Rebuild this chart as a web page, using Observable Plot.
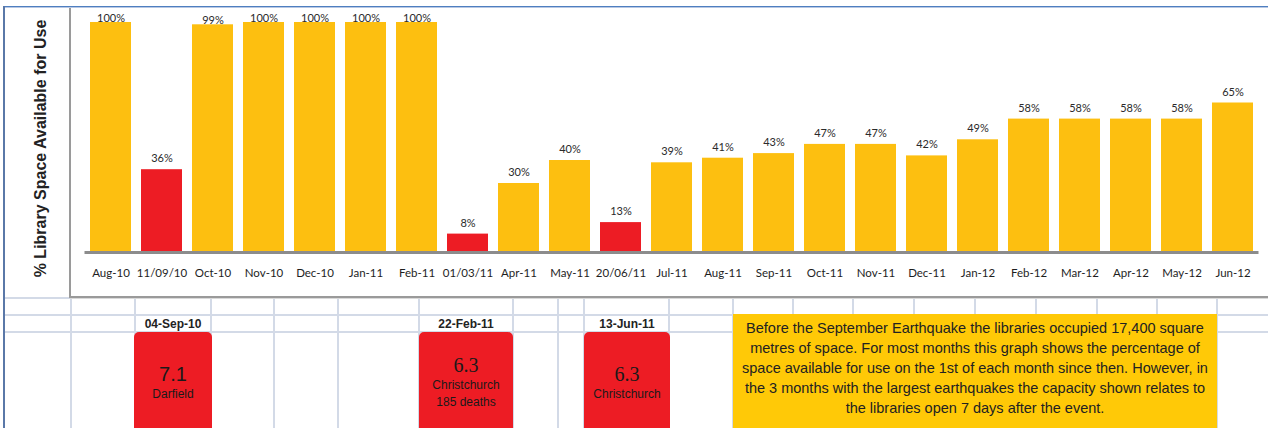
<!DOCTYPE html>
<html><head><meta charset="utf-8">
<script src="https://cdn.jsdelivr.net/npm/d3@7"></script>
<script src="https://cdn.jsdelivr.net/npm/@observablehq/plot@0.6"></script>
<style>
body{margin:0;background:#fff;}
#wrap{position:relative;width:1268px;height:428px;overflow:hidden;background:#fff;font-family:"Liberation Sans",Arial,sans-serif;}
#chart{position:absolute;left:0;top:0;}
.ln{position:absolute;}
.grid{position:absolute;background:#d3dae7;}
.qbox{position:absolute;top:332px;height:100px;background:#ED1C24;border-radius:5px 5px 0 0;display:flex;flex-direction:column;align-items:center;justify-content:center;color:#1a1a1a;text-align:center;}
.qdate{position:absolute;top:315px;height:17px;line-height:18px;text-align:center;font-weight:bold;font-size:12px;color:#222;}
.mag{font-size:20px;line-height:24px;}
.place{font-size:12px;line-height:17px;}
#note{position:absolute;left:733px;top:314px;width:484px;height:120px;background:#FFC907;color:#222;font-size:14.5px;line-height:20px;text-align:center;padding-top:4px;box-sizing:border-box;white-space:nowrap;}
</style></head><body><div id="wrap"><div id="chart"></div></div>
<script>
// ---- data ----
const months = ["Aug-10","11/09/10","Oct-10","Nov-10","Dec-10","Jan-11","Feb-11","01/03/11","Apr-11","May-11","20/06/11","Jul-11","Aug-11","Sep-11","Oct-11","Nov-11","Dec-11","Jan-12","Feb-12","Mar-12","Apr-12","May-12","Jun-12"];
const values = [100,36,99,100,100,100,100,8,30,40,13,39,41,43,47,47,42,49,58,58,58,58,65];
const eventMonths = ["11/09/10","01/03/11","20/06/11"];
const yTitle = "% Library Space Available for Use";
const quakeDates = ["04-Sep-10","22-Feb-11","13-Jun-11"];
const quakeMagnitudes = ["7.1","6.3","6.3"];
const quakePlaces = ["Darfield","Christchurch","Christchurch"];
const quakeDeaths = ["","185 deaths",""];
const noteLines = [
  "Before the September Earthquake the libraries occupied 17,400 square",
  "metres of space. For most months this graph shows the percentage of",
  "space available for use on the 1st of each month since then.  However, in",
  "the 3 months with the largest earthquakes the capacity shown relates to",
  "the libraries open 7 days after the event."
];

// ---- layout (spreadsheet decoration) ----
const quakeBoxLayout = [{left:134,width:78,serif:false},{left:419,width:94,serif:true},{left:584,width:86,serif:true}];
const gridCols = [71,135,211,274,338,419,513,558,584,669,733,793,853,914,975,1036,1097,1157,1217];

const data = months.map((m,i)=>({month:m, value:values[i], event:eventMonths.includes(m)}));
const ORANGE = "#FDBF10", RED = "#ED1C24";

const plot = Plot.plot({
  width:1268, height:300,
  marginLeft:84.5, marginRight:9.5, marginTop:22, marginBottom:48,
  x:{domain:months, paddingInner:0.2, paddingOuter:0.1, axis:null},
  y:{domain:[0,100], axis:null},
  style:{fontFamily:"Lato, 'Open Sans', sans-serif", fontSize:"11.5px", color:"#222", background:"transparent", overflow:"visible"},
  marks:[
    Plot.barY(data.filter(d=>!d.event),{x:"month", y:"value", fill:ORANGE}),
    Plot.barY(data.filter(d=>d.event),{x:"month", y:"value", fill:RED}),
    Plot.ruleY([0],{stroke:"#8c8c8c", strokeWidth:3}),
    Plot.text(data,{x:"month", frameAnchor:"bottom", dy:24, text:"month", fill:"#1e1e1e", fontSize:11.5}),
    Plot.text(data.filter(d=>d.value<90),{x:"month", y:"value", text:d=>d.value+"%", dy:-11, fill:"#2a2a2a", fontSize:11}),
    Plot.text(data.filter(d=>d.value>=90),{x:"month", y:"value", text:d=>d.value+"%", dy:-4, fill:"#2a2a2a", fontSize:11}),
    Plot.text([yTitle],{frameAnchor:"left", textAnchor:"middle", dx:-44, dy:11, rotate:-90, fontWeight:"bold", fontSize:16, fontFamily:"'Liberation Sans', Arial, sans-serif", fill:"#222"})
  ]
});
document.getElementById("chart").appendChild(plot);

const wrap = document.getElementById("wrap");
function div(cls, css, html){const d=document.createElement("div"); d.className=cls; Object.assign(d.style, css); if(html!==undefined) d.innerHTML=html; wrap.appendChild(d); return d;}

// grid
div("grid",{left:"5px",top:"297px",width:"66px",height:"2px"});
div("grid",{left:"5px",top:"314px",width:"1263px",height:"2px"});
div("grid",{left:"5px",top:"331px",width:"1263px",height:"2px"});
gridCols.forEach(x=>div("grid",{left:(x-1)+"px",top:"298px",width:"2px",height:"130px"}));

// frame lines
div("ln",{left:"5px",top:"6px",width:"1263px",height:"1px",background:"#4f7fc0"});
div("ln",{left:"5px",top:"7px",width:"1263px",height:"1px",background:"#b8c8e4"});
div("ln",{left:"3px",top:"6px",width:"2px",height:"422px",background:"#5a78a8"});
div("ln",{left:"69px",top:"8px",width:"2px",height:"290px",background:"#9a9a9a"});
div("ln",{left:"70px",top:"296px",width:"1198px",height:"2px",background:"#9a9a9a"});
div("ln",{left:"70px",top:"298px",width:"1198px",height:"1px",background:"#d9d9d9"});

// quake boxes
quakeBoxLayout.forEach((b,i)=>{
  div("qdate",{left:b.left+"px",width:b.width+"px"}, quakeDates[i]);
  const box = div("qbox",{left:b.left+"px",width:b.width+"px"});
  const mag = document.createElement("div"); mag.className="mag"; mag.textContent=quakeMagnitudes[i];
  mag.style.fontFamily = b.serif ? "'Liberation Serif', serif" : "'Liberation Sans', Arial, sans-serif";
  box.appendChild(mag);
  [quakePlaces[i], quakeDeaths[i]].filter(Boolean).forEach(t=>{const p=document.createElement("div"); p.className="place"; p.textContent=t; box.appendChild(p);});
});
const nd = document.createElement("div"); nd.id="note"; nd.innerHTML = noteLines.join("<br>"); wrap.appendChild(nd);
</script></body></html>
